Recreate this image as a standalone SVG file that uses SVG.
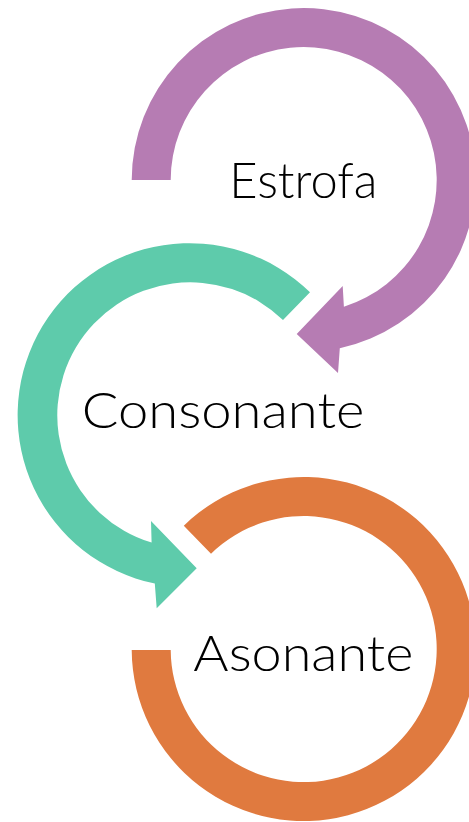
<svg xmlns="http://www.w3.org/2000/svg" width="469" height="822" viewBox="0 0 469 822">
<style>
.lbl{font-family:"Lato","Liberation Sans",sans-serif;font-weight:300;font-size:49px;fill:#000;}
.p{fill:#B67CB3;}
.g{fill:#5ECBAB;}
.o{fill:#E07A3F;}
</style>
<rect width="469" height="822" fill="#fff"/>
<g id="node-estrofa">
<path class="p" d="M131.7,180 A172,172 0 1 1 339.8,348.2 L338,373 L296.7,334 L342.7,286 L343.9,306.8 A133,133 0 1 0 170.7,180 Z"/>
<text class="lbl" x="229.3" y="198.3" textLength="148" lengthAdjust="spacingAndGlyphs">Estrofa</text>
</g>
<g id="node-consonante">
<path class="g" d="M310,292.3 A172,172 0 1 0 154.8,583.6 L156.7,608.3 L196.7,568.3 L151,521 L151.6,542.6 A133,133 0 1 1 283,320 Z"/>
<text class="lbl" x="81.7" y="428.3" textLength="282.6" lengthAdjust="spacingAndGlyphs">Consonante</text>
</g>
<g id="node-asonante">
<path class="o" d="M131.7,650 A172,172 0 1 0 183.8,525.7 L211,553.7 A133,133 0 1 1 170.7,650 Z"/>
<text class="lbl" x="193.3" y="671" textLength="220" lengthAdjust="spacingAndGlyphs">Asonante</text>
</g>
<g id="connectors"></g>
</svg>
